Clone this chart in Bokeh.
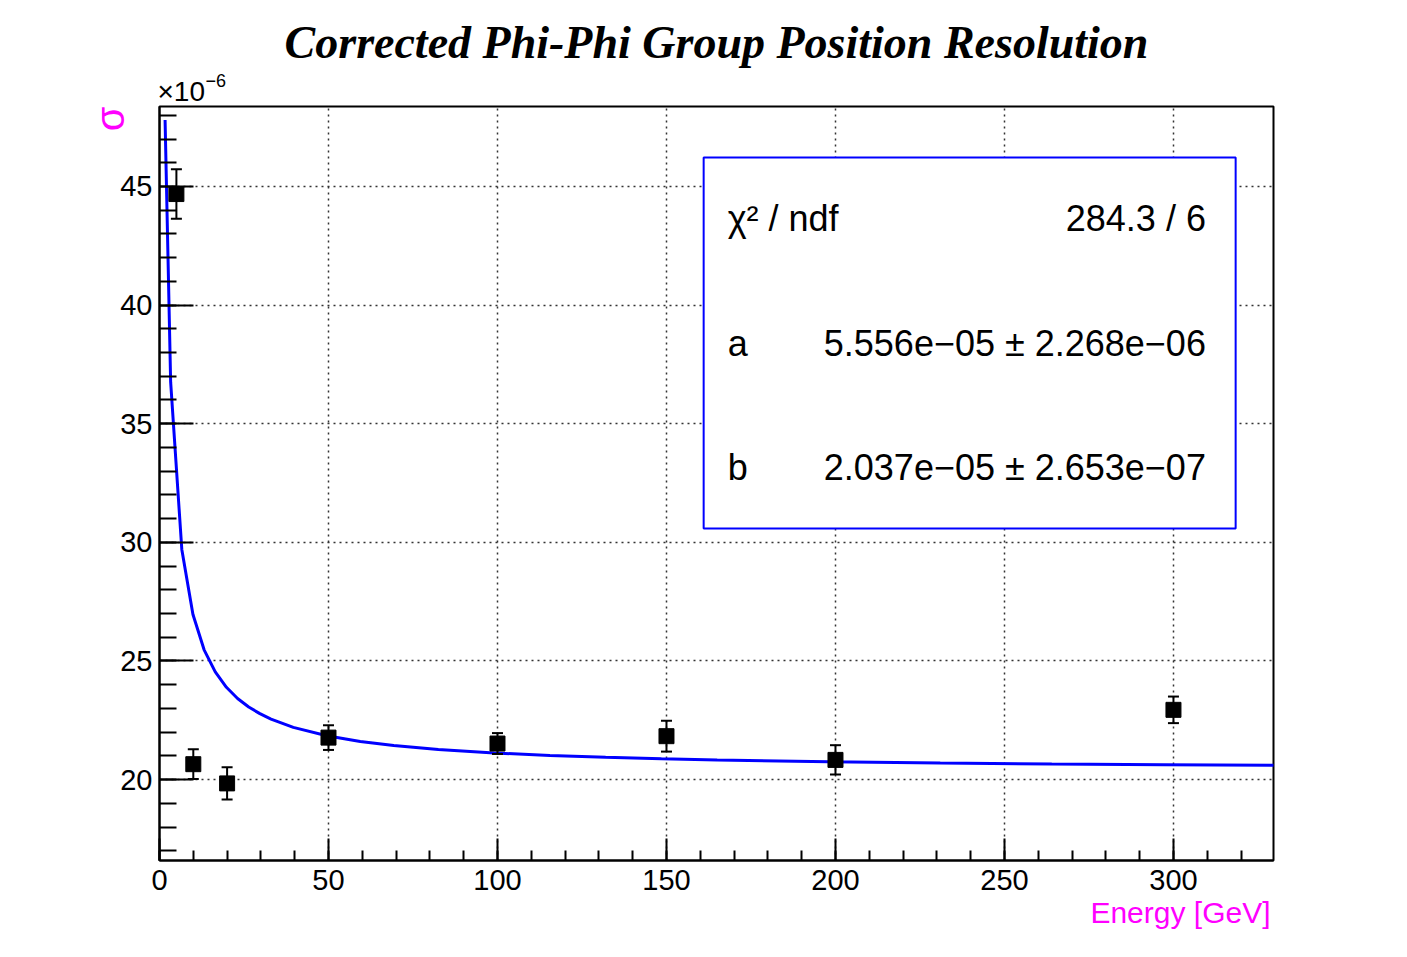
from math import pi
from bokeh.plotting import figure
from bokeh.models import (Range1d, SingleIntervalTicker, Whisker, TeeHead, ColumnDataSource,
                          BoxAnnotation, Label, Title)
from bokeh.embed import file_html
from bokeh.resources import INLINE

# ---- data (values in units of 1e-6) ----
energy = [5, 10, 20, 50, 100, 150, 200, 300]
sigma = [44.68, 20.65, 19.84, 21.77, 21.52, 21.83, 20.83, 22.94]
sigma_err = [1.04, 0.63, 0.68, 0.52, 0.44, 0.65, 0.62, 0.56]

fit_x = [1.65, 3.3, 6.6, 9.9, 13.2, 16.5, 19.8, 23.1, 26.4, 29.7, 33, 39.6, 49.5, 59.4,
         69.3, 82.5, 99, 115.5, 132, 148.5, 165, 198, 231, 264, 297, 330]
fit_y = [47.8, 36.75, 29.7, 26.96, 25.47, 24.54, 23.89, 23.42, 23.06, 22.78, 22.55, 22.20,
         21.85, 21.61, 21.44, 21.27, 21.12, 21.02, 20.94, 20.88, 20.83, 20.75, 20.70, 20.66,
         20.63, 20.60]

title_text = "Corrected Phi-Phi Group Position Resolution"
xlabel = "Energy [GeV]"
ylabel = "σ"
mult_base = "×10"
mult_exp = "−6"
stat_labels = ["χ² / ndf", "a", "b"]
stat_values = ["284.3 / 6", "5.556e−05 ± 2.268e−06", "2.037e−05 ± 2.653e−07"]

FONT = "Liberation Sans"

p = figure(width=1399, height=949, output_backend="svg", toolbar_location=None,
           x_range=Range1d(0, 329.6), y_range=Range1d(16.59, 48.37),
           min_border_left=159, min_border_right=126, min_border_top=106, min_border_bottom=89)
p.background_fill_color = "white"
p.border_fill_color = "white"
p.outline_line_color = "black"
p.outline_line_width = 2
p.outline_line_alpha = 1

# axes
xa = p.xaxis[0]
ya = p.yaxis[0]
xa.ticker = SingleIntervalTicker(interval=50, num_minor_ticks=5)
ya.ticker = SingleIntervalTicker(interval=5, num_minor_ticks=5)
for ax in (xa, ya):
    ax.axis_line_color = "black"
    ax.axis_line_width = 2
    ax.major_tick_line_color = "black"
    ax.minor_tick_line_color = "black"
    ax.major_tick_line_width = 2
    ax.minor_tick_line_width = 2
    ax.major_tick_out = 0
    ax.minor_tick_out = 0
    ax.major_label_text_font = FONT
    ax.major_label_text_font_size = "29px"
    ax.major_label_text_color = "black"
xa.major_tick_in = 22
xa.minor_tick_in = 10
ya.major_tick_in = 34
ya.minor_tick_in = 17
xa.major_label_standoff = 9
ya.major_label_standoff = 7

for g in (p.xgrid[0], p.ygrid[0]):
    g.grid_line_color = "#333333"
    g.grid_line_dash = "2 4"
    g.grid_line_width = 1.5

# fit curve
p.line(fit_x, fit_y, line_color="#0000ff", line_width=3)

# data points with error bars
src = ColumnDataSource(dict(x=energy, y=sigma,
                            lo=[s - e for s, e in zip(sigma, sigma_err)],
                            hi=[s + e for s, e in zip(sigma, sigma_err)]))
w = Whisker(source=src, base="x", upper="hi", lower="lo", line_color="black", line_width=2,
            upper_head=TeeHead(size=11, line_color="black", line_width=2),
            lower_head=TeeHead(size=11, line_color="black", line_width=2))
w.level = "glyph"
p.add_layout(w)
p.scatter("x", "y", source=src, marker="square", size=15, fill_color="black", line_color="black")

# stats box
box = BoxAnnotation(left=161.0, right=318.4, top=46.22, bottom=30.58,
                    fill_color="white", fill_alpha=1.0, line_color="#0000ff", line_width=2,
                    line_alpha=1.0)
p.add_layout(box)
row_y = [43.65, 38.38, 33.15]
for lab, val, yy in zip(stat_labels, stat_values, row_y):
    p.add_layout(Label(x=168.1, y=yy, text=lab, text_font=FONT, text_font_size="36px",
                       text_align="left", text_baseline="middle", text_color="black"))
    p.add_layout(Label(x=309.6, y=yy, text=val, text_font=FONT, text_font_size="36px",
                       text_align="right", text_baseline="middle", text_color="black"))


def set_standoff(t, v):
    try:
        t.standoff = v
    except Exception:
        t.standoff = 0


# multiplier (nearest the frame), exponent, then main title above
t_mult = Title(text=mult_base, align="left", text_font=FONT, text_font_size="28px",
               text_font_style="normal", text_color="black", offset=-2)
set_standoff(t_mult, 0)
p.add_layout(t_mult, "above")
t_exp = Title(text=mult_exp, align="left", text_font=FONT, text_font_size="18px",
              text_font_style="normal", text_color="black", offset=46)
set_standoff(t_exp, -27)
p.add_layout(t_exp, "above")
t_main = Title(text=title_text, align="center", text_font="Liberation Serif",
               text_font_style="bold italic", text_font_size="46px", text_color="black")
set_standoff(t_main, 12)
p.add_layout(t_main, "above")

# axis titles
t_x = Title(text=xlabel, align="right", text_font=FONT, text_font_size="30px",
            text_font_style="normal", text_color="#ff00ff", offset=3)
set_standoff(t_x, 2)
p.add_layout(t_x, "below")
t_y = Title(text=ylabel, align="right", text_font=FONT, text_font_size="40px",
            text_font_style="normal", text_color="#ff00ff")
set_standoff(t_y, -28)
p.add_layout(t_y, "left")

open("out.html", "w").write(file_html(p, INLINE))
